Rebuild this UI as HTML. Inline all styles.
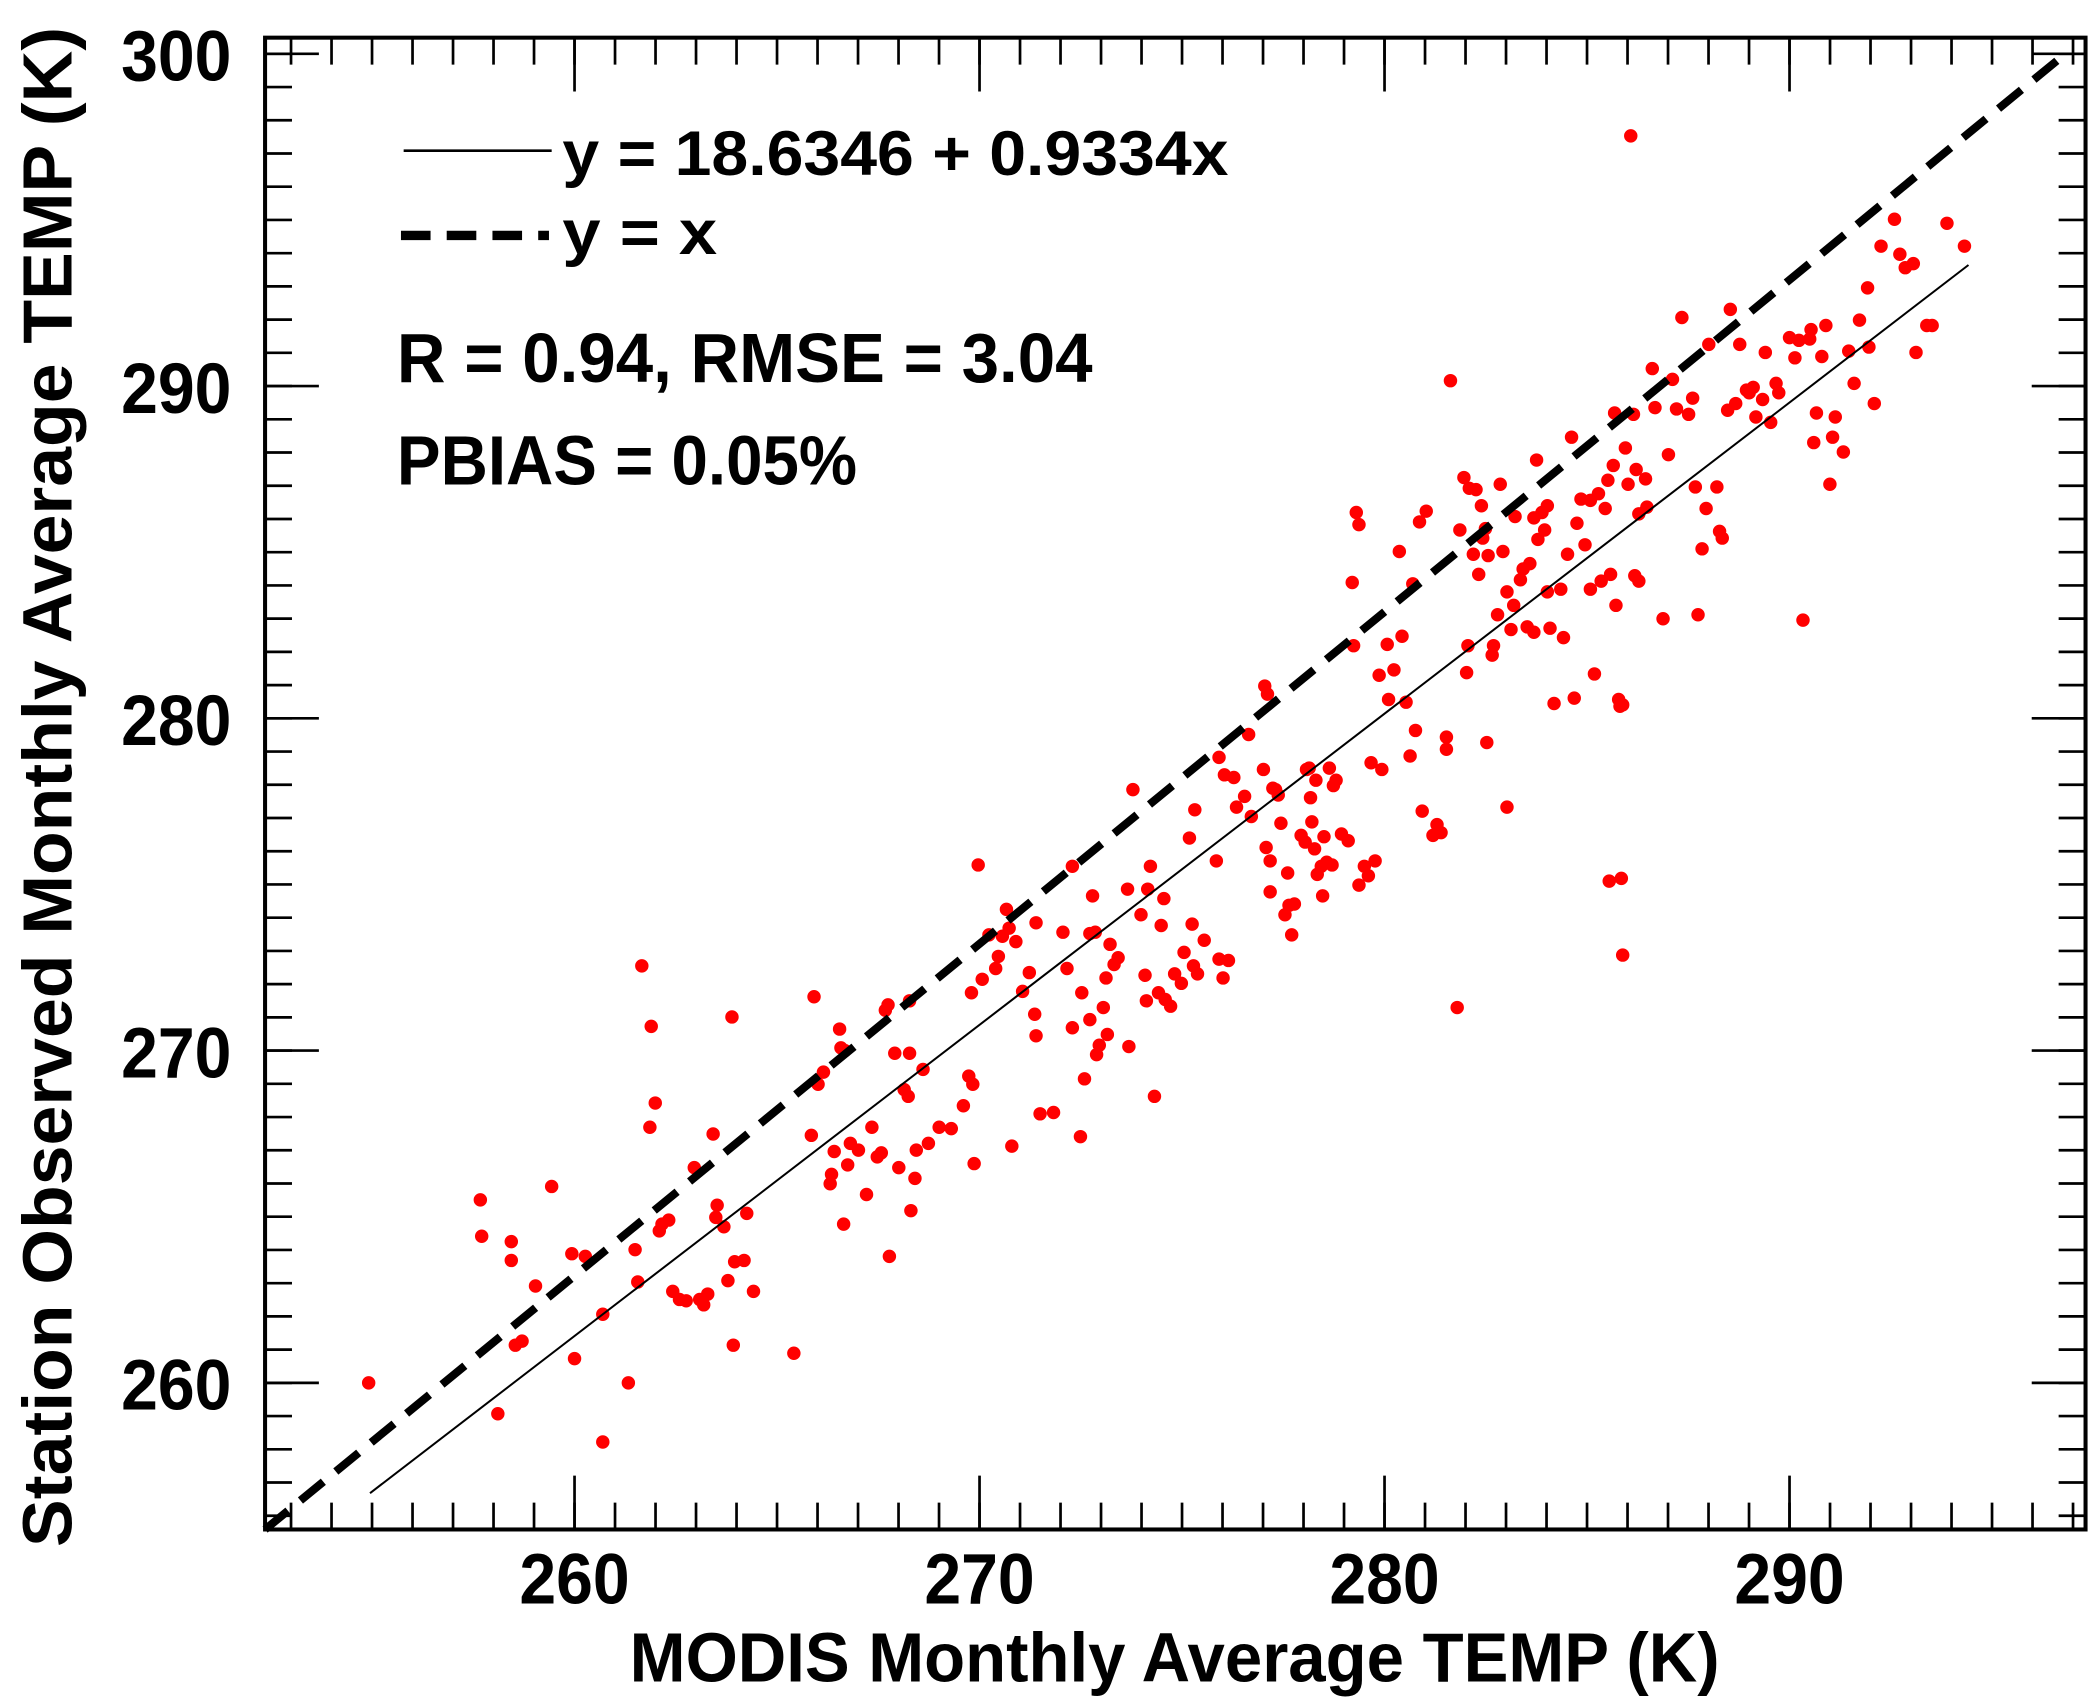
<!DOCTYPE html>
<html><head><meta charset="utf-8"><style>html,body{margin:0;padding:0;background:#fff}svg{display:block}</style></head>
<body>
<svg width="2099" height="1703" viewBox="0 0 1560 1266" preserveAspectRatio="none" xmlns="http://www.w3.org/2000/svg" font-family="Liberation Sans, sans-serif" font-weight="bold">
<g stroke="#000" fill="none">
<line x1="215.3" y1="1127" x2="1542" y2="1127" stroke-width="20" stroke-dasharray="2,28.1"/>
<line x1="215.3" y1="38" x2="1542" y2="38" stroke-width="20" stroke-dasharray="2,28.1"/>
<line x1="207" y1="1127.8" x2="207" y2="39" stroke-width="20" stroke-dasharray="2,22.7"/>
<line x1="1540" y1="1127.8" x2="1540" y2="39" stroke-width="20" stroke-dasharray="2,22.7"/>
<path stroke-width="2" d="M427 1137v-40M728 1137v-40M1029 1137v-40M1330 1137v-40M427 28v40M728 28v40M1029 28v40M1330 28v40M197 1028h40M197 781h40M197 534h40M197 287h40M197 40h40M1550 1028h-40M1550 781h-40M1550 534h-40M1550 287h-40M1550 40h-40"/>
</g>
<rect x="197" y="28" width="1353" height="1109" fill="none" stroke="#000" stroke-width="3"/>
<path fill="none" stroke="#f00" stroke-width="10" stroke-linecap="round" d="M274 1028h0M357 892h0M358 919h0M370 1051h0M380 923h0M380 937h0M383 1000h0M388 997h0M398 956h0M410 882h0M425 932h0M427 1010h0M435 934h0M448 1072h0M448 977h0M467 1028h0M472 929h0M474 953h0M477 718h0M484 763h0M483 838h0M487 820h0M490 915h0M497 907h0M492 910h0M500 960h0M505 966h0M510 967h0M516 868h0M520 966h0M523 970h0M526 962h0M530 843h0M532 905h0M533 896h0M538 912h0M541 952h0M544 756h0M545 1000h0M546 938h0M553 937h0M555 902h0M560 960h0M590 1006h0M605 741h0M603 844h0M608 806h0M612 797h0M617 880h0M618 873h0M620 856h0M624 765h0M625 779h0M627 910h0M628 781h0M630 866h0M632 850h0M638 855h0M644 888h0M648 838h0M652 860h0M655 857h0M658 751h0M660 747h0M661 934h0M665 783h0M668 868h0M672 810h0M675 815h0M676 744h0M676 783h0M677 900h0M680 876h0M681 855h0M686 795h0M690 850h0M698 838h0M707 839h0M716 822h0M720 800h0M723 806h0M722 738h0M724 865h0M727 643h0M730 728h0M735 695h0M740 720h0M742 711h0M745 696h0M748 676h0M750 690h0M755 700h0M752 852h0M760 737h0M765 723h0M769 754h0M770 686h0M773 828h0M783 827h0M770 770h0M790 693h0M793 720h0M797 644h0M803 845h0M797 764h0M804 738h0M806 802h0M810 694h0M810 758h0M812 666h0M814 693h0M815 784h0M817 777h0M820 749h0M822 727h0M825 702h0M823 769h0M828 717h0M831 712h0M839 778h0M838 661h0M842 587h0M848 680h0M851 725h0M852 744h0M853 661h0M855 644h0M858 815h0M861 738h0M863 688h0M865 668h0M866 743h0M870 748h0M873 724h0M878 731h0M880 708h0M884 623h0M886 687h0M887 718h0M888 602h0M890 724h0M895 699h0M904 640h0M906 563h0M906 713h0M909 727h0M910 576h0M913 714h0M917 578h0M919 600h0M925 592h0M928 546h0M930 607h0M939 572h0M940 510h0M941 630h0M942 516h0M944 640h0M946 586h0M944 663h0M948 587h0M950 591h0M952 612h0M955 680h0M957 649h0M958 673h0M960 695h0M962 672h0M967 621h0M970 626h0M971 572h0M973 571h0M974 593h0M975 611h0M977 631h0M978 580h0M979 650h0M982 644h0M983 666h0M984 622h0M986 641h0M988 571h0M990 643h0M991 584h0M993 580h0M997 620h0M1002 625h0M1008 381h0M1010 390h0M1005 433h0M1006 480h0M1010 658h0M1014 644h0M1019 567h0M1017 651h0M1022 640h0M1025 502h0M1027 572h0M1031 479h0M1032 520h0M1036 498h0M1040 410h0M1042 473h0M1045 522h0M1048 562h0M1050 434h0M1052 543h0M1055 388h0M1057 603h0M1060 380h0M1065 621h0M1068 613h0M1071 619h0M1075 557h0M1075 548h0M1078 283h0M1083 749h0M1085 394h0M1088 355h0M1090 500h0M1091 480h0M1092 363h0M1095 412h0M1097 364h0M1099 427h0M1101 376h0M1102 400h0M1104 393h0M1105 552h0M1106 413h0M1109 487h0M1110 480h0M1113 457h0M1115 360h0M1117 410h0M1120 440h0M1120 600h0M1123 468h0M1125 450h0M1126 384h0M1130 431h0M1132 423h0M1135 466h0M1137 419h0M1140 470h0M1140 385h0M1142 342h0M1143 401h0M1146 381h0M1148 394h0M1150 376h0M1150 440h0M1152 467h0M1155 523h0M1160 438h0M1162 474h0M1165 412h0M1168 325h0M1170 519h0M1172 389h0M1175 371h0M1178 405h0M1182 372h0M1182 438h0M1185 501h0M1188 367h0M1190 432h0M1193 378h0M1195 357h0M1196 655h0M1197 427h0M1199 346h0M1200 307h0M1201 450h0M1203 520h0M1204 525h0M1206 524h0M1208 333h0M1210 360h0M1212 101h0M1215 428h0M1214 308h0M1216 349h0M1218 432h0M1218 382h0M1223 356h0M1224 377h0M1228 274h0M1230 303h0M1236 460h0M1240 338h0M1243 282h0M1246 304h0M1250 236h0M1255 308h0M1258 296h0M1260 362h0M1262 457h0M1265 408h0M1268 378h0M1270 256h0M1276 362h0M1278 395h0M1280 400h0M1284 305h0M1286 230h0M1290 300h0M1293 256h0M1298 290h0M1300 292h0M1303 288h0M1305 310h0M1310 297h0M1312 262h0M1316 314h0M1320 285h0M1322 292h0M1330 251h0M1334 266h0M1337 253h0M1340 461h0M1345 252h0M1346 245h0M1348 329h0M1350 307h0M1354 265h0M1357 242h0M1360 360h0M1364 310h0M1370 336h0M1374 261h0M1378 285h0M1382 238h0M1388 214h0M1398 183h0M1408 163h0M1412 189h0M1416 199h0M1422 196h0M1424 262h0M1432 242h0M1436 242h0M1447 166h0M1460 183h0M1389 258h0M1393 300h0M1362 325h0M1206 710h0M1205 653h0"/>
<line x1="275" y1="1110" x2="1463" y2="197" stroke="#000" stroke-width="1.5"/>
<line x1="197" y1="1137" x2="1535" y2="40" stroke="#000" stroke-width="6" stroke-dasharray="22,12"/>
<g font-size="53" text-anchor="end">
<text x="172" y="60" textLength="82" lengthAdjust="spacingAndGlyphs">300</text>
<text x="172" y="307" textLength="82" lengthAdjust="spacingAndGlyphs">290</text>
<text x="172" y="554" textLength="82" lengthAdjust="spacingAndGlyphs">280</text>
<text x="172" y="801" textLength="82" lengthAdjust="spacingAndGlyphs">270</text>
<text x="172" y="1048" textLength="82" lengthAdjust="spacingAndGlyphs">260</text>
</g>
<g font-size="53" text-anchor="middle">
<text x="427" y="1192" textLength="82" lengthAdjust="spacingAndGlyphs">260</text>
<text x="728" y="1192" textLength="82" lengthAdjust="spacingAndGlyphs">270</text>
<text x="1029" y="1192" textLength="82" lengthAdjust="spacingAndGlyphs">280</text>
<text x="1330" y="1192" textLength="82" lengthAdjust="spacingAndGlyphs">290</text>
</g>
<text x="468" y="1250" font-size="52" textLength="810" lengthAdjust="spacingAndGlyphs">MODIS Monthly Average TEMP (K)</text>
<text transform="translate(53,1150) rotate(-90)" font-size="52" textLength="1130" lengthAdjust="spacingAndGlyphs">Station Observed Monthly Average TEMP (K)</text>
<line x1="300" y1="112" x2="410" y2="112" stroke="#000" stroke-width="2"/>
<text x="418" y="130" font-size="47" textLength="495" lengthAdjust="spacingAndGlyphs">y = 18.6346 + 0.9334x</text>
<line x1="298" y1="175" x2="408" y2="175" stroke="#000" stroke-width="7" stroke-dasharray="22,12"/>
<text x="418" y="189" font-size="47" textLength="115" lengthAdjust="spacingAndGlyphs">y = x</text>
<text x="295" y="284" font-size="52" textLength="517" lengthAdjust="spacingAndGlyphs">R = 0.94, RMSE = 3.04</text>
<text x="295" y="360" font-size="52" textLength="342" lengthAdjust="spacingAndGlyphs">PBIAS = 0.05%</text>
</svg>
</body></html>
